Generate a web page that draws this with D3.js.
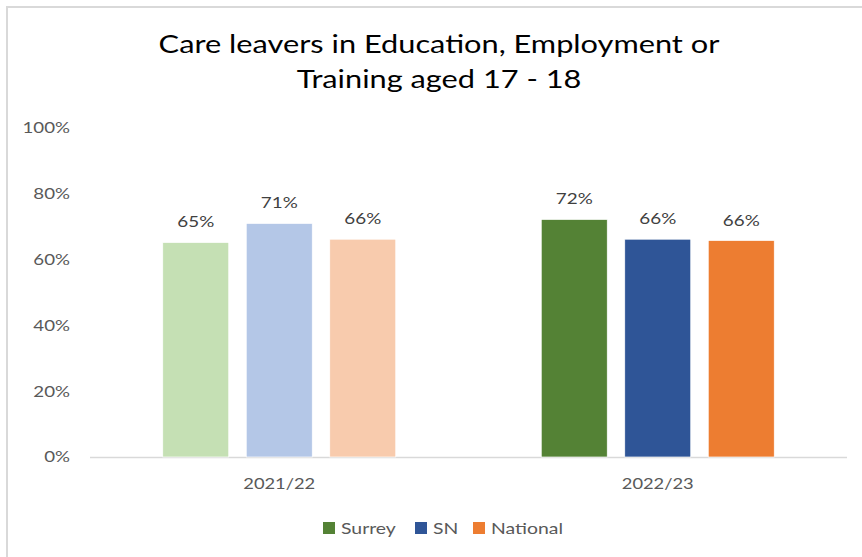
<!DOCTYPE html>
<html><head><meta charset="utf-8">
<script src="https://cdn.jsdelivr.net/npm/d3@7"></script>
<style>body{margin:0;background:#fff}svg{display:block}</style>
</head><body>
<svg id="c" width="862" height="557"></svg>
<script>
const categories = ["2021/22", "2022/23"];
const seriesNames = ["Surrey", "SN", "National"];
const surreyValues = [65.2, 72.2];
const snValues = [71.0, 66.2];
const nationalValues = [66.2, 65.8];
const dataLabels = [["65%", "71%", "66%"], ["72%", "66%", "66%"]];
const yTicks = [0, 20, 40, 60, 80, 100];
const titleLines = ["Care leavers in Education, Employment or", "Training aged 17 - 18"];

const colours = {
  "2021/22": ["#C5E0B4", "#B4C7E7", "#F8CBAD"],
  "2022/23": ["#548235", "#2F5597", "#ED7D31"]
};
const legendColours = ["#548235", "#2F5597", "#ED7D31"];
const font = "Lato, 'Open Sans', sans-serif";

const svg = d3.select("#c");

// horizontal stretch factor so a sample string reaches a target width
function stretchFactor(sample, size, target) {
  const t = svg.append("text").attr("font-family", font).attr("font-size", size).text(sample);
  const w = t.node().getComputedTextLength();
  t.remove();
  return target / w;
}
function place(sel, sx) {
  sel.each(function () {
    const s = d3.select(this);
    const x = +s.attr("x") || 0, y = +s.attr("y") || 0;
    s.attr("x", 0).attr("y", 0).attr("transform", `translate(${x},${y}) scale(${sx},1)`);
  });
}

// frame
svg.append("path").attr("d", "M7,557 V7 H862").attr("fill", "none").attr("stroke", "#d9d9d9").attr("stroke-width", 2);

const plotLeft = 90, plotRight = 847, plotTop = 128, plotBottom = 457;
const y = d3.scaleLinear().domain([0, 100]).range([plotBottom, plotTop]);
const x0 = d3.scaleBand().domain(categories).range([plotLeft, plotRight]).paddingInner(0.3844).paddingOuter(0.1922);
const x1 = d3.scaleBand().domain(seriesNames).range([0, x0.bandwidth()]).paddingInner(0.2096).paddingOuter(0);

// title
const titleSize = 25;
const sxTitle = stretchFactor(titleLines[0], titleSize, 561);
svg.append("g").selectAll("text").data(titleLines).join("text")
  .attr("x", 439).attr("y", (d, i) => 53 + i * 35)
  .attr("text-anchor", "middle").attr("font-family", font).attr("font-size", titleSize).attr("fill", "#000")
  .text(d => d)
  .call(place, sxTitle);

// y axis labels
const tickSize = 15.5;
const sxTick = stretchFactor("100%", tickSize, 47.5);
const yAxis = d3.axisLeft(y).tickValues(yTicks).tickFormat(d => d + "%").tickSize(0).tickPadding(0);
const ya = svg.append("g").attr("transform", "translate(70,0)").call(yAxis);
ya.select(".domain").remove();
ya.selectAll("text").attr("font-family", font).attr("font-size", tickSize).attr("fill", "#595959")
  .attr("transform", `scale(${sxTick},1)`);

// x axis
const sxCat = stretchFactor("2021/22", tickSize, 72);
const xa = svg.append("g").attr("transform", `translate(0,${plotBottom})`).call(d3.axisBottom(x0).tickSize(0).tickPadding(21));
xa.select(".domain").attr("stroke", "#d9d9d9").attr("stroke-width", 1.5).attr("d", `M${plotLeft},0.5H${plotRight}`);
xa.selectAll("text").attr("font-family", font).attr("font-size", tickSize).attr("fill", "#595959")
  .attr("transform", `scale(${sxCat},1)`);

const rows = categories.map((c, i) => ({
  cat: c,
  vals: [surreyValues[i], snValues[i], nationalValues[i]],
  labels: dataLabels[i]
}));

const g = svg.append("g").selectAll("g").data(rows).join("g")
  .attr("transform", d => `translate(${x0(d.cat)},0)`);

g.selectAll("rect").data(d => d.vals.map((v, j) => ({v, j, cat: d.cat}))).join("rect")
  .attr("x", d => x1(seriesNames[d.j]))
  .attr("y", d => y(d.v))
  .attr("width", x1.bandwidth())
  .attr("height", d => plotBottom - y(d.v))
  .attr("fill", d => colours[d.cat][d.j])
  .attr("stroke", "#fff").attr("stroke-width", 0.7);

const labelSize = 16;
const sxLabel = stretchFactor("65%", labelSize, 37);
g.selectAll("text.lbl").data(d => d.vals.map((v, j) => ({v, j, l: d.labels[j]}))).join("text")
  .attr("class", "lbl")
  .attr("x", d => x1(seriesNames[d.j]) + x1.bandwidth() / 2)
  .attr("y", d => y(d.v) - 15)
  .attr("text-anchor", "middle").attr("font-family", font).attr("font-size", labelSize).attr("fill", "#404040")
  .text(d => d.l)
  .call(place, sxLabel);

// legend
const legendX = [323, 415, 473];
const sxLegend = stretchFactor("National", tickSize, 72);
const lg = svg.append("g").selectAll("g").data(seriesNames).join("g")
  .attr("transform", (d, i) => `translate(${legendX[i]},522)`);
lg.append("rect").attr("width", 12).attr("height", 12).attr("fill", (d, i) => legendColours[i]);
lg.append("text").attr("x", 18).attr("y", 11.5).attr("font-family", font).attr("font-size", tickSize).attr("fill", "#595959").text(d => d)
  .call(place, sxLegend);
</script>
</body></html>
